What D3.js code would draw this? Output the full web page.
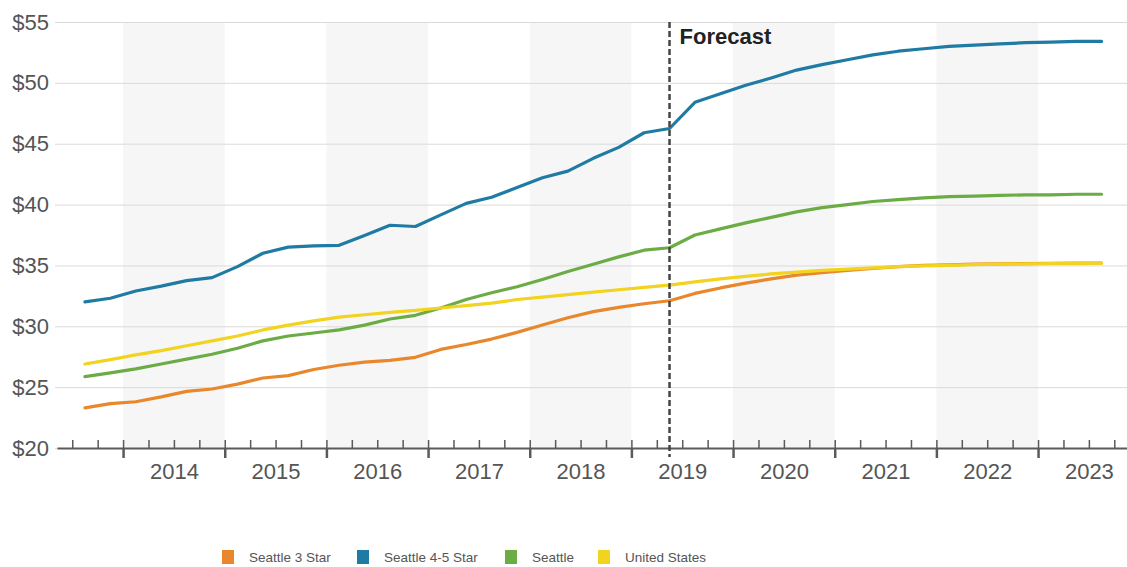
<!DOCTYPE html>
<html>
<head>
<meta charset="utf-8">
<script src="https://cdn.jsdelivr.net/npm/d3@7"></script>
<style>
  html, body { margin: 0; padding: 0; background: #fff; }
  svg { display: block; font-family: "Liberation Sans", Arial, sans-serif; }
</style>
</head>
<body>
<svg id="chart" width="1127" height="567"></svg>
<script>
// Quarterly periods shown on the chart (2013 Q3 through 2023 Q3)
const quarters = [
  "2013 Q3","2013 Q4",
  "2014 Q1","2014 Q2","2014 Q3","2014 Q4",
  "2015 Q1","2015 Q2","2015 Q3","2015 Q4",
  "2016 Q1","2016 Q2","2016 Q3","2016 Q4",
  "2017 Q1","2017 Q2","2017 Q3","2017 Q4",
  "2018 Q1","2018 Q2","2018 Q3","2018 Q4",
  "2019 Q1","2019 Q2","2019 Q3","2019 Q4",
  "2020 Q1","2020 Q2","2020 Q3","2020 Q4",
  "2021 Q1","2021 Q2","2021 Q3","2021 Q4",
  "2022 Q1","2022 Q2","2022 Q3","2022 Q4",
  "2023 Q1","2023 Q2","2023 Q3"
];

// Rent per square foot by market segment
const seattle3Star = [
  23.3, 23.65, 23.8, 24.2, 24.65, 24.85, 25.25, 25.75, 25.95, 26.45,
  26.8, 27.05, 27.2, 27.45, 28.1, 28.5, 28.95, 29.5, 30.1, 30.7,
  31.2, 31.55, 31.85, 32.1, 32.7, 33.15, 33.55, 33.9, 34.2, 34.4,
  34.6, 34.75, 34.9, 35.0, 35.05, 35.1, 35.13, 35.15, 35.18, 35.2, 35.2
];
const seattle45Star = [
  32.0, 32.3, 32.9, 33.3, 33.75, 34.0, 34.9, 36.0, 36.5, 36.6,
  36.65, 37.45, 38.3, 38.2, 39.15, 40.1, 40.6, 41.4, 42.2, 42.75,
  43.8, 44.7, 45.9, 46.25, 48.4, 49.1, 49.8, 50.4, 51.05, 51.5,
  51.9, 52.3, 52.6, 52.8, 53.0, 53.1, 53.2, 53.3, 53.35, 53.4, 53.4
];
const seattleAll = [
  25.86, 26.17, 26.5, 26.9, 27.3, 27.7, 28.2, 28.8, 29.2, 29.45,
  29.7, 30.1, 30.6, 30.9, 31.5, 32.2, 32.75, 33.25, 33.85, 34.5,
  35.1, 35.7, 36.25, 36.45, 37.5, 38.0, 38.5, 38.95, 39.4, 39.75,
  40.0, 40.25, 40.4, 40.55, 40.65, 40.7, 40.75, 40.8, 40.8, 40.85, 40.85
];
const unitedStates = [
  26.9, 27.26, 27.65, 28.0, 28.4, 28.8, 29.2, 29.7, 30.1, 30.45,
  30.75, 30.95, 31.15, 31.3, 31.5, 31.7, 31.9, 32.2, 32.4, 32.6,
  32.8, 33.0, 33.2, 33.38, 33.65, 33.9, 34.1, 34.3, 34.45, 34.6,
  34.7, 34.8, 34.9, 34.97, 35.0, 35.07, 35.1, 35.13, 35.15, 35.15, 35.18
];

const seriesNames = ["Seattle 3 Star", "Seattle 4-5 Star", "Seattle", "United States"];
const seriesColors = ["#e8872c", "#1f7ba3", "#6cac44", "#f1d320"];
const seriesValues = [seattle3Star, seattle45Star, seattleAll, unitedStates];

const years = [2014, 2015, 2016, 2017, 2018, 2019, 2020, 2021, 2022, 2023];
const yTicks = [20, 25, 30, 35, 40, 45, 50, 55];
const forecastStart = "2019 Q2";

// Continuous quarter index: 0 = start of 2013 Q1
function quarterIndex(label) {
  const [yr, q] = label.split(" Q").map(Number);
  return (yr - 2013) * 4 + (q - 1);
}

const svg = d3.select("#chart");
const plotLeft = 55, plotRight = 1127, plotTop = 22, plotBottom = 448;

const x = d3.scaleLinear().domain([1.4, 43.5]).range([57, plotRight]);
const y = d3.scaleLinear().domain([20, 55]).range([plotBottom, plotTop]);
const xMid = label => x(quarterIndex(label) + 0.5);

// Alternating year bands
svg.append("g").selectAll("rect")
  .data(years.filter((d, i) => i % 2 === 0))
  .join("rect")
  .attr("x", d => x((d - 2013) * 4))
  .attr("width", d => x((d - 2013) * 4 + 4) - x((d - 2013) * 4))
  .attr("y", plotTop)
  .attr("height", plotBottom - plotTop)
  .attr("fill", "#f6f6f6");

// Horizontal gridlines + dollar labels
const yAxis = svg.append("g")
  .attr("transform", `translate(${plotLeft},0)`)
  .call(d3.axisLeft(y).tickValues(yTicks).tickSize(-(plotRight - plotLeft))
    .tickPadding(6).tickFormat(d => "$" + d));
yAxis.select(".domain").remove();
yAxis.selectAll(".tick line").attr("stroke", "#dadada").attr("stroke-width", 1);
yAxis.selectAll(".tick text")
  .attr("font-size", 22).attr("fill", "#555")
  .attr("font-family", "Liberation Sans, Arial, sans-serif");

// Series lines
const line = d3.line()
  .x((d, i) => xMid(quarters[i]))
  .y(d => y(d));

svg.append("g").selectAll("path")
  .data(seriesValues)
  .join("path")
  .attr("d", d => line(d))
  .attr("fill", "none")
  .attr("stroke", (d, i) => seriesColors[i])
  .attr("stroke-width", 3.2)
  .attr("stroke-linejoin", "round")
  .attr("stroke-linecap", "round");

// Bottom axis: quarter ticks, year ticks, year labels
const quarterTicks = d3.range(2, 44);
const yearTicks = quarterTicks.filter(q => q % 4 === 0);

const xAxis = svg.append("g").attr("transform", `translate(0,${plotBottom})`);
xAxis.append("g")
  .call(d3.axisBottom(x).tickValues(quarterTicks).tickSize(-8).tickSizeOuter(0).tickFormat(""))
  .call(g => g.select(".domain").attr("stroke", "#5a5a5a").attr("stroke-width", 2))
  .call(g => g.selectAll(".tick line").attr("stroke", "#5a5a5a").attr("stroke-width", 1.5));
xAxis.append("g")
  .call(d3.axisBottom(x).tickValues(yearTicks).tickSize(10).tickFormat(""))
  .call(g => g.select(".domain").remove())
  .call(g => g.selectAll(".tick line").attr("stroke", "#5a5a5a").attr("stroke-width", 2.5));
xAxis.append("g")
  .call(d3.axisBottom(x).tickValues(years.map(yr => (yr - 2013) * 4 + 2))
    .tickSize(0).tickPadding(15).tickFormat((d, i) => String(years[i])))
  .call(g => g.select(".domain").remove())
  .call(g => g.selectAll(".tick text")
    .attr("font-size", 22).attr("fill", "#555")
    .attr("font-family", "Liberation Sans, Arial, sans-serif"));

// Forecast marker
const fx = xMid(forecastStart);
svg.append("line")
  .attr("x1", fx).attr("x2", fx)
  .attr("y1", plotTop).attr("y2", plotBottom + 9)
  .attr("stroke", "#444")
  .attr("stroke-width", 2.5)
  .attr("stroke-dasharray", "6,3");
svg.append("text")
  .attr("x", fx + 10).attr("y", 43.5)
  .attr("font-size", 22).attr("font-weight", "bold")
  .attr("fill", "#222")
  .text("Forecast");

// Legend
const legendX = [222, 357, 505, 598];
const legend = svg.append("g").selectAll("g")
  .data(seriesNames)
  .join("g")
  .attr("transform", (d, i) => `translate(${legendX[i]},557)`);
legend.append("rect")
  .attr("x", 0).attr("y", -7).attr("width", 12).attr("height", 14)
  .attr("fill", (d, i) => seriesColors[i]);
legend.append("text")
  .attr("x", 27).attr("y", 5)
  .attr("font-size", 13.5).attr("fill", "#555")
  .text(d => d);
</script>
</body>
</html>
